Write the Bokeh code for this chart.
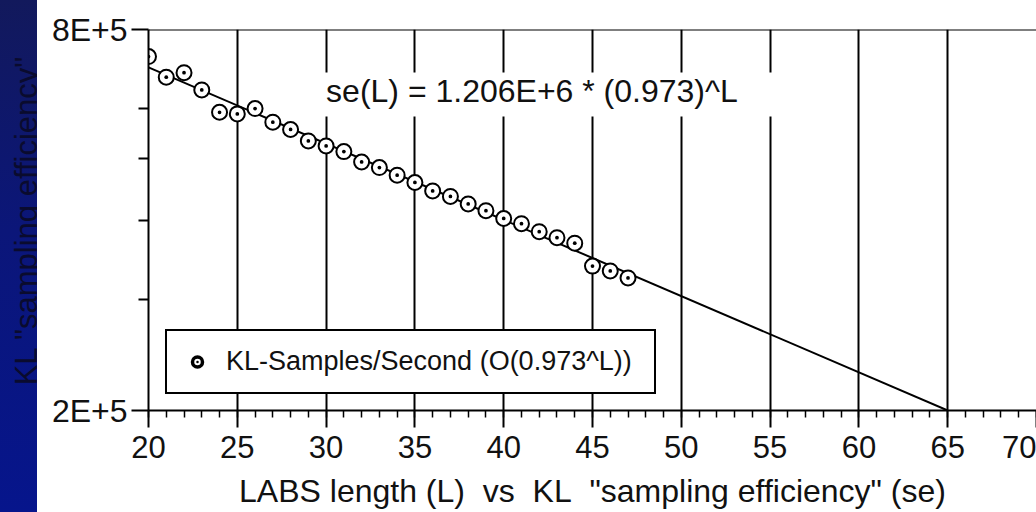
from bokeh.plotting import figure
from bokeh.models import Range1d, FixedTicker, Span, Label, BoxAnnotation, Legend, LegendItem, Div
from bokeh.layouts import row
from bokeh.embed import file_html
from bokeh.resources import INLINE

# ---- data ----
L_values = [20, 21, 22, 23, 24, 25, 26, 27, 28, 29, 30, 31, 32, 33,
            34, 35, 36, 37, 38, 39, 40, 41, 42, 43, 44, 45, 46, 47]
se_values = [725000, 672600, 683700, 642000, 592000, 588500, 599900,
             571000, 556000, 533400, 523700, 513000, 494000, 484000,
             470900, 458500, 444600, 435800, 424100, 413800, 402200,
             394700, 383300, 375100, 367600, 338200, 332300, 324000]
fit_L = [20, 65]
fit_se = [697000, 200000]

x_ticks = [20, 25, 30, 35, 40, 45, 50, 55, 60, 65, 70]
x_grid_ticks = [20, 25, 30, 35, 40, 45, 50, 55, 60, 65]
x_minor_ticks = list(range(20, 71))
y_ticks = [200000, 800000]
y_tick_labels = ["2E+5", "8E+5"]
y_minor_ticks = [300000, 400000, 500000, 600000]

NBSP = "\u00a0"
x_title = 'LABS length (L)' + NBSP + ' vs' + NBSP + ' KL' + NBSP + ' "sampling efficiency" (se)'
y_title = 'KL "sampling efficiency"'
fit_text = "se(L) = 1.206E+6 * (0.973)^L"
legend_text = "KL-Samples/Second (O(0.973^L))"

FONT = "Liberation Sans"
INK = "#111111"

# ---- left navy strip holding the (clipped) y title ----
strip_html = (
    '<div style="position:relative;width:37px;height:512px;overflow:hidden;'
    'background:linear-gradient(to bottom,#12195c 0%,#0b1679 45%,#06158c 100%);">'
    '<span style="position:absolute;left:10.8px;top:221px;transform-origin:0 0;'
    'transform:rotate(-90deg) translateX(-50%);white-space:nowrap;'
    "font-family:'Liberation Sans';font-size:31px;line-height:31px;color:#0a0b2e;\">"
    + y_title.replace('"', "&quot;") +
    '</span></div>'
)
strip = Div(text=strip_html, width=37, height=512,
            styles={"margin": "0", "padding": "0", "overflow": "hidden",
                    "background-color": "#0b1679"})

# ---- main chart ----
p = figure(width=999, height=512, x_range=Range1d(20, 70),
           y_range=Range1d(200000, 800000), y_axis_type="log",
           toolbar_location=None, output_backend="svg",
           min_border_left=111, min_border_right=0, min_border_top=29, min_border_bottom=102)
p.outline_line_color = None
p.background_fill_color = "white"
p.border_fill_color = "white"

xa = p.xaxis[0]
xa.ticker = FixedTicker(ticks=x_ticks, minor_ticks=x_minor_ticks)
xa.axis_line_color = "black"
xa.axis_line_width = 2
xa.major_tick_line_color = "black"
xa.major_tick_line_width = 2
xa.major_tick_out = 17
xa.major_tick_in = 0
xa.minor_tick_line_color = "black"
xa.minor_tick_line_width = 1.5
xa.minor_tick_out = 7
xa.minor_tick_in = 0
xa.major_label_text_font = FONT
xa.major_label_text_font_size = "31px"
xa.major_label_text_color = INK
xa.major_label_standoff = 8
xa.axis_label = x_title
xa.axis_label_text_font = FONT
xa.axis_label_text_font_size = "32px"
xa.axis_label_text_font_style = "normal"
xa.axis_label_text_color = INK
xa.axis_label_standoff = 12

ya = p.yaxis[0]
ya.ticker = FixedTicker(ticks=y_ticks, minor_ticks=y_minor_ticks)
ya.major_label_overrides = dict(zip(y_ticks, y_tick_labels))
ya.axis_line_color = "black"
ya.axis_line_width = 2
ya.major_tick_line_color = "black"
ya.major_tick_line_width = 2
ya.major_tick_out = 17
ya.major_tick_in = 0
ya.minor_tick_line_color = "black"
ya.minor_tick_line_width = 2
ya.minor_tick_out = 10
ya.minor_tick_in = 0
ya.major_label_text_font = FONT
ya.major_label_text_font_size = "32px"
ya.major_label_text_color = INK
ya.major_label_standoff = 4

p.xgrid.ticker = FixedTicker(ticks=x_grid_ticks)
p.xgrid.grid_line_color = "black"
p.xgrid.grid_line_width = 2
p.ygrid.grid_line_color = None

p.add_layout(Span(location=800000, dimension="width", line_color="black", line_width=2))

p.line(fit_L, fit_se, line_color="black", line_width=2)
p.scatter(L_values, se_values, marker="circle_dot", size=15, line_color="black",
          line_width=2, fill_color="white")

# white patch behind the fit equation (interrupts the grid lines)
p.add_layout(BoxAnnotation(left=29.6, right=55.8, bottom=583000, top=684000,
                           fill_color="white", fill_alpha=1, line_alpha=0))
p.add_layout(Label(x=30.0, y=640000, text=fit_text, text_align="left",
                   text_baseline="middle", text_font=FONT, text_font_size="32px",
                   text_color=INK))

# legend swatch: same marker, drawn bolder (placeholder row, nothing plotted)
swatch = p.scatter([float("nan")], [float("nan")], marker="circle_dot", size=10,
                   line_color="black", line_width=3.5, fill_color="white")
legend = Legend(items=[LegendItem(label=legend_text, renderers=[swatch])],
                location=(17, 16), margin=0, padding=15,
                glyph_width=30, glyph_height=25, label_standoff=14, label_width=413,
                border_line_color="black", border_line_width=2, border_line_alpha=1,
                background_fill_color="white", background_fill_alpha=1,
                label_text_font=FONT, label_text_font_size="27px", label_text_color=INK)
p.add_layout(legend)

layout = row(strip, p)
open("out.html", "w").write(file_html(layout, INLINE))
